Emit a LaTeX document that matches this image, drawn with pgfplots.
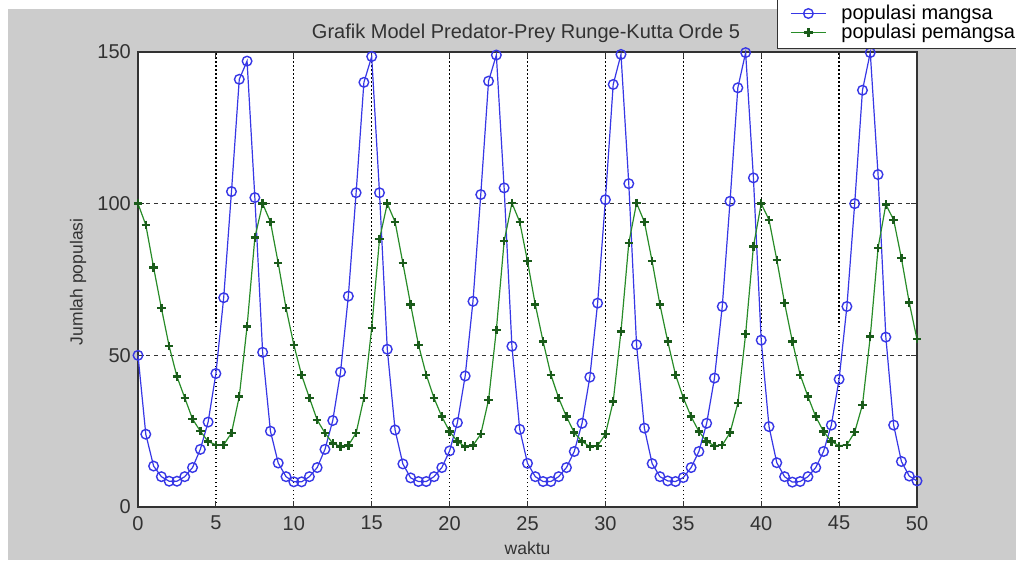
\documentclass[border=0pt]{standalone}
\usepackage{fontspec}
\setmainfont{Liberation Sans}
\usepackage{pgfplots}
\usepackage{pgfplotstable}
\pgfplotsset{compat=1.18}

\definecolor{figgray}{RGB}{204,204,204}
\definecolor{preyblue}{RGB}{55,55,230}
\definecolor{predgreen}{RGB}{40,140,40}
\definecolor{axisdark}{RGB}{50,50,50}

% Lotka-Volterra solution, step 0.5: time, prey, predator
\pgfplotstableread{
t    prey   pred
0    50     100
0.5  24     93
1    13.5   79
1.5  10     65.6
2    8.5    53
2.5  8.5    43
3    10     36
3.5  13     29
4    19     25
4.5  28     21.6
5    44     20.5
5.5  69     20.5
6    104    24.4
6.5  141    36.4
7    147    59.5
7.5  102    88.8
8    51     100
8.5  25     94
9    14.5   80.4
9.5  10     65.6
10   8.3    53.5
10.5 8.3    43.5
11   10     36
11.5 13     28.7
12   19     24.4
12.5 28.5   21
13   44.5   20
13.5 69.5   20.3
14   103.6  24.4
14.5 140    36
15   148.5  59
15.5 103.6  88.3
16   52     100
16.5 25.4   94
17   14.2   80.4
17.5 9.6    66.7
18   8.4    53.5
18.5 8.4    43.6
19   10     35.9
19.5 13     29.8
20   18.5   24.9
20.5 27.8   21.6
21   43.2   19.9
21.5 67.8   20.3
22   103    24
22.5 140.4  35.3
23   149    58.4
23.5 105.2  87.6
24   53     100.2
24.5 25.6   94
25   14.4   81
25.5 10     66.7
26   8.4    54.6
26.5 8.4    43.6
27   10     35.9
27.5 13     29.8
28   18.3   24.5
28.5 27.6   21.6
29   42.8   19.9
29.5 67.2   20.2
30   101.3  24
30.5 139.3  34.8
31   149.2  57.9
31.5 106.6  87
32   53.5   100.2
32.5 26     94
33   14.3   81
33.5 10     66.7
34   8.6    54.6
34.5 8.4    43.6
35   9.7    36
35.5 13     29.8
36   18.3   24.9
36.5 27.6   21.6
37   42.5   20.2
37.5 66.1   20.4
38   100.8  24.5
38.5 138.2  34.2
39   149.8  57
39.5 108.5  85.9
40   55     100
40.5 26.5   94.7
41   14.6   81.5
41.5 10     67.2
42   8.2    54.6
42.5 8.4    43.6
43   10     36.4
43.5 13     29.8
44   18.3   24.9
44.5 27     21.6
45   42.1   20.2
45.5 66.1   20.5
46   100    24.7
46.5 137.4  33.7
47   149.8  56.2
47.5 109.6  85.4
48   56     99.7
48.5 27     94.7
49   15     82
49.5 10.2   67.4
50   8.6    55.3
}\lvdata

\begin{document}
\begin{tikzpicture}[x=1pt,y=1pt]
\useasboundingbox (0pt,0pt) rectangle (1016pt,565pt);
\fill[white] (0pt,0pt) rectangle (1016pt,565pt);
\fill[figgray] (8pt,5pt) rectangle (1016pt,556pt);
\begin{axis}[
  at={(138pt,58pt)}, anchor=origin,
  scale only axis, width=779pt, height=455pt,
  xmin=0, xmax=50, ymin=0, ymax=150,
  xtick={0,5,...,50}, ytick={0,50,100,150},
  tick align=inside, major tick length=6pt,
  axis line style={axisdark, line width=1.2pt},
  tick style={axisdark, line width=1pt},
  grid=major,
  x grid style={black, line width=1.3pt, dash pattern=on 1.5pt off 2.5pt},
  y grid style={black!80, line width=1pt, dash pattern=on 4pt off 4pt},
  axis background/.style={fill=white},
  clip=false,
  /pgf/number format/assume math mode=true,
  tick label style={font=\fontsize{20}{24}\selectfont, text=axisdark},
  xticklabel style={anchor=north, inner sep=0pt, yshift=-9pt},
  yticklabel style={anchor=east, inner sep=0pt, xshift=-7pt},
  xlabel={waktu}, ylabel={Jumlah populasi},
  label style={font=\fontsize{17.5}{21}\selectfont, text=axisdark},
  xlabel style={at={(axis description cs:0.5,-0.09)}, anchor=center},
  ylabel style={at={(axis description cs:-0.077,0.495)}, anchor=center},
  title={Grafik Model Predator-Prey Runge-Kutta Orde 5},
  title style={at={(axis description cs:0.498,1.0154)}, anchor=base,
    font=\fontsize{20}{24}\selectfont, text=axisdark},
  legend style={at={(axis description cs:0.820,1.0066)}, anchor=south west,
    draw=axisdark, line width=1pt, fill=white,
    font=\fontsize{20}{24}\selectfont,
    inner xsep=13pt, inner ysep=8pt, column sep=15pt, row sep=3pt,
    nodes={inner sep=0pt}},
  legend cell align=left,
  legend image code/.code={\draw[mark repeat=2,mark phase=2]
    plot coordinates {(0pt,0pt) (17.5pt,0pt) (35pt,0pt)};},
]
\addplot[preyblue, line width=1.2pt, mark=o, mark size=4.8pt,
  mark options={line width=1.4pt}] table[x=t,y=prey]{\lvdata};
\addlegendentry{populasi mangsa}
\addplot[predgreen, line width=1.2pt, mark=+, mark size=4.2pt,
  mark options={line width=2.4pt, predgreen!65!black}] table[x=t,y=pred]{\lvdata};
\addlegendentry{populasi pemangsa}
\end{axis}
\end{tikzpicture}
\end{document}
